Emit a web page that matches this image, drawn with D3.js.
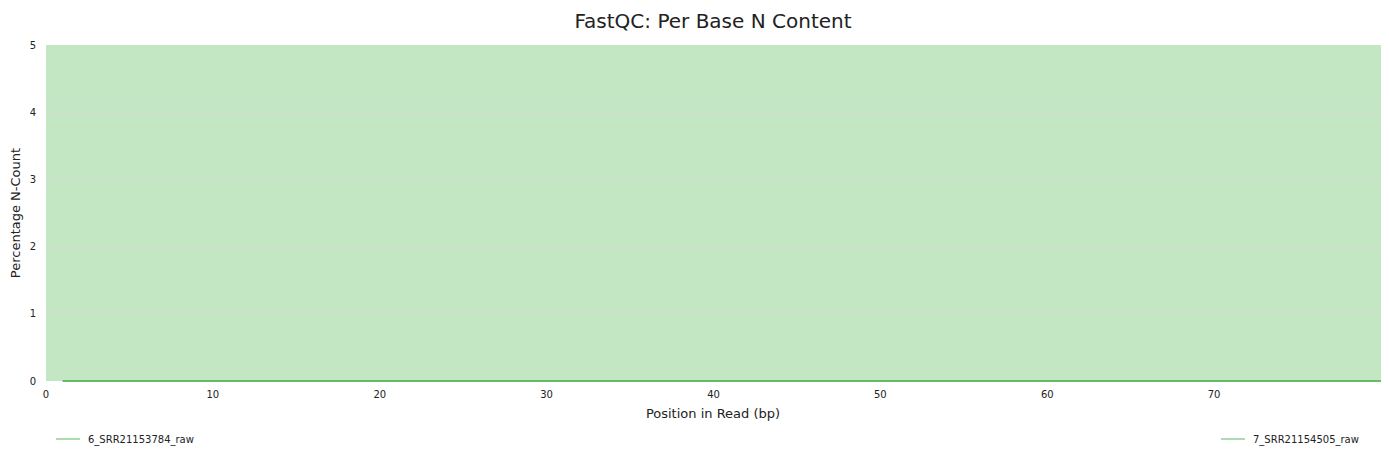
<!DOCTYPE html>
<html><head><meta charset="utf-8">
<script src="https://cdn.jsdelivr.net/npm/d3@7"></script>
<style>body{margin:0;background:#fff;font-family:"DejaVu Sans",sans-serif}</style>
</head><body><svg id="c" width="1389" height="460"></svg>
<script>
// samples and per-position N content (all zero)
const samples = ['6_SRR21153784_raw', '7_SRR21154505_raw'];
const positions = d3.range(1, 81);
const nCount6 = positions.map(() => 0);
const nCount7 = positions.map(() => 0);
const series = [nCount6, nCount7];
const yTicks = [0, 1, 2, 3, 4, 5];
const xTicks = [0, 10, 20, 30, 40, 50, 60, 70];

const svg = d3.select('#c');
const m = { l: 46, r: 1381, t: 45, b: 381 };
const x = d3.scaleLinear().domain([0, 80]).range([m.l, m.r]);
const y = d3.scaleLinear().domain([0, 5]).range([m.b, m.t]);

svg.append('text').attr('x', 713).attr('y', 28).attr('text-anchor', 'middle')
  .attr('font-size', 20).attr('fill', '#222').text('FastQC: Per Base N Content');

svg.append('rect').attr('x', m.l).attr('y', m.t).attr('width', m.r - m.l).attr('height', m.b - m.t)
  .attr('fill', '#c3e6c3');

svg.append('g').selectAll('line').data(yTicks.slice(1, -1)).join('line')
  .attr('x1', m.l).attr('x2', m.r).attr('y1', d => y(d)).attr('y2', d => y(d))
  .attr('stroke', '#d8d8d8').attr('stroke-width', 1);

svg.append('g').selectAll('text').data(yTicks).join('text')
  .attr('x', 36).attr('y', d => y(d) + 3.5).attr('text-anchor', 'end')
  .attr('font-size', 10).attr('fill', '#222').text(d => d);

svg.append('g').selectAll('text').data(xTicks).join('text')
  .attr('x', d => x(d)).attr('y', 398).attr('text-anchor', 'middle')
  .attr('font-size', 10).attr('fill', '#222').text(d => d);

svg.append('text').attr('x', 713).attr('y', 418).attr('text-anchor', 'middle')
  .attr('font-size', 13).attr('fill', '#222').text('Position in Read (bp)');
svg.append('text').attr('transform', 'translate(20,213) rotate(-90)').attr('text-anchor', 'middle')
  .attr('font-size', 13).attr('fill', '#222').text('Percentage N-Count');

const line = d3.line().x((d, i) => x(positions[i])).y(d => y(d));
series.forEach(s => svg.append('path').datum(s).attr('d', line)
  .attr('fill', 'none').attr('stroke', '#5cb85c').attr('stroke-width', 1.5));

const legendX = [56, 1221];
samples.forEach((name, i) => {
  const g = svg.append('g').attr('transform', `translate(${legendX[i]},439)`);
  g.append('line').attr('x1', 0).attr('x2', 24).attr('stroke', '#5cb85c').attr('stroke-width', 1);
  g.append('text').attr('x', 32).attr('y', 4).attr('font-size', 10).attr('fill', '#222').text(name);
});
</script></body></html>
